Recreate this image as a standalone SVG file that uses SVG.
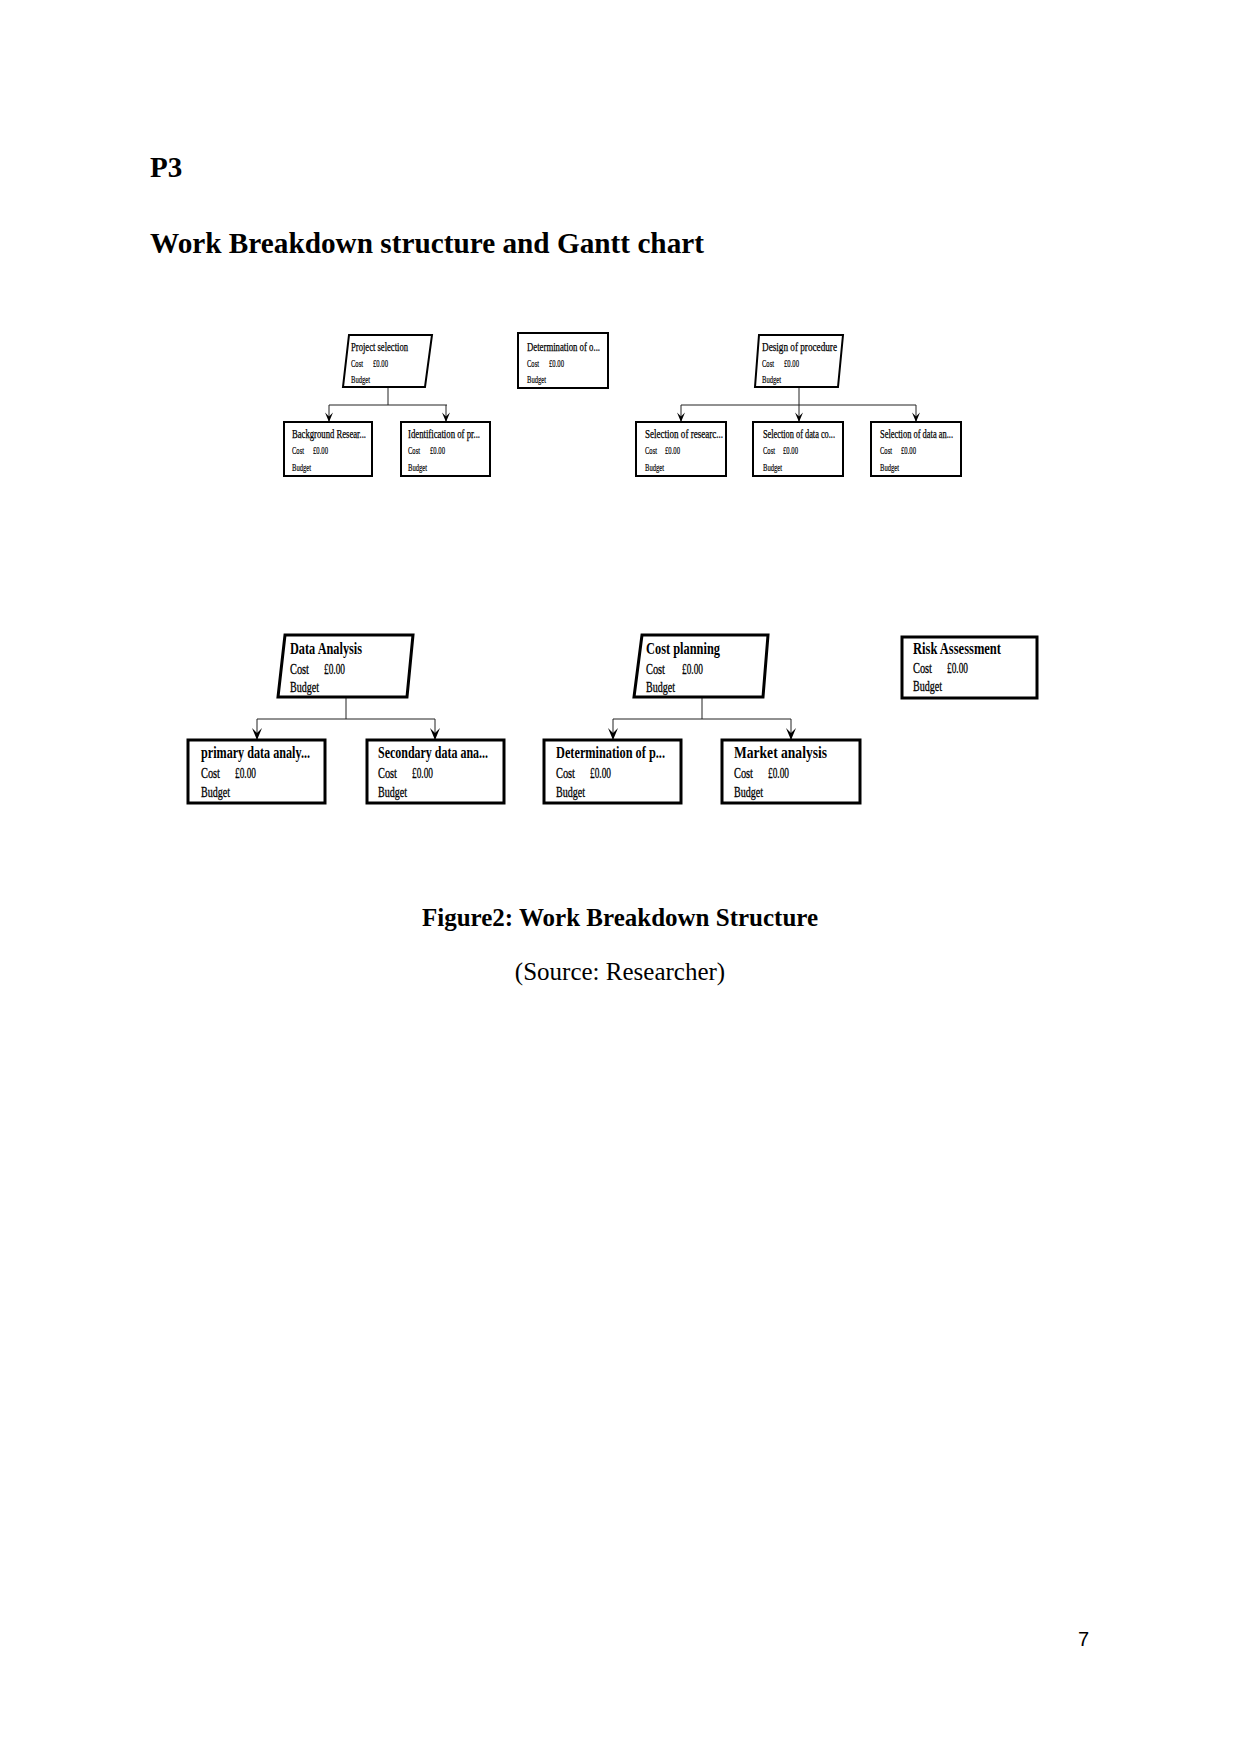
<svg xmlns="http://www.w3.org/2000/svg" width="1241" height="1754" viewBox="0 0 1241 1754">
<style>
.bg{fill:#fff}
.h{font-family:"Liberation Serif","Times New Roman",serif;font-weight:bold;fill:#000}
.r{font-family:"Liberation Serif","Times New Roman",serif;fill:#000}
.s{stroke:#000;fill:#fff;stroke-width:2}
.S{stroke:#000;fill:#fff;stroke-width:3}
.t{font-family:"Liberation Serif","Times New Roman",serif;font-size:12px;fill:#000;stroke:#000;stroke-width:0.25}
.ts{font-family:"Liberation Serif","Times New Roman",serif;font-size:11px;fill:#000;stroke:#000;stroke-width:0.2}
.T{font-family:"Liberation Serif","Times New Roman",serif;font-size:16px;font-weight:bold;fill:#000}
.Ts{font-family:"Liberation Serif","Times New Roman",serif;font-size:14px;fill:#000;stroke:#000;stroke-width:0.3}
.c{stroke:#222;stroke-width:1;fill:none}
.pn{font-family:"Liberation Sans",Arial,sans-serif;font-size:20px;fill:#000}
</style>
<defs>
<marker id="a1" viewBox="0 0 12 10" refX="12" refY="5" markerWidth="11" markerHeight="8" markerUnits="userSpaceOnUse" orient="auto">
<path d="M0,0 L12,5 L0,10 L5,5 z" fill="#000"/>
</marker>
<marker id="a2" viewBox="0 0 12 10" refX="12" refY="5" markerWidth="15" markerHeight="10" markerUnits="userSpaceOnUse" orient="auto">
<path d="M0,0 L12,5 L0,10 L5,5 z" fill="#000"/>
</marker>
</defs>
<rect class="bg" x="0" y="0" width="1241" height="1754"/>
<text class="h" x="150" y="177" font-size="29">P3</text>
<text class="h" x="150" y="253" font-size="29" textLength="554" lengthAdjust="spacingAndGlyphs">Work Breakdown structure and Gantt chart</text>

<g id="connectors">
<path class="c" d="M388,387 V405"/>
<path class="c" d="M329,405 H447"/>
<path class="c" d="M329,405 V422" marker-end="url(#a1)"/>
<path class="c" d="M446,405 V422" marker-end="url(#a1)"/>
<path class="c" d="M799,387 V422" marker-end="url(#a1)"/>
<path class="c" d="M681,405 H916"/>
<path class="c" d="M681,405 V422" marker-end="url(#a1)"/>
<path class="c" d="M916,405 V422" marker-end="url(#a1)"/>
<path class="c" d="M346,697 V719"/>
<path class="c" d="M257,719 H435"/>
<path class="c" d="M257,719 V740" marker-end="url(#a2)"/>
<path class="c" d="M435,719 V740" marker-end="url(#a2)"/>
<path class="c" d="M702,697 V719"/>
<path class="c" d="M613,719 H791"/>
<path class="c" d="M613,719 V740" marker-end="url(#a2)"/>
<path class="c" d="M791,719 V740" marker-end="url(#a2)"/>
</g>

<g id="n-project-selection">
<polygon class="s" points="349,335 432,335 425,387 343,387"/>
<text class="t" x="351" y="351" textLength="57" lengthAdjust="spacingAndGlyphs">Project selection</text>
<text class="ts" x="351" y="367" textLength="12" lengthAdjust="spacingAndGlyphs">Cost</text>
<text class="ts" x="373" y="367" textLength="15" lengthAdjust="spacingAndGlyphs">£0.00</text>
<text class="ts" x="351" y="383" textLength="19" lengthAdjust="spacingAndGlyphs">Budget</text>
</g>
<g id="n-background">
<rect class="s" x="284" y="422" width="88" height="54"/>
<text class="t" x="292" y="438" textLength="74" lengthAdjust="spacingAndGlyphs">Background Resear...</text>
<text class="ts" x="292" y="454" textLength="12" lengthAdjust="spacingAndGlyphs">Cost</text>
<text class="ts" x="313" y="454" textLength="15" lengthAdjust="spacingAndGlyphs">£0.00</text>
<text class="ts" x="292" y="471" textLength="19" lengthAdjust="spacingAndGlyphs">Budget</text>
</g>
<g id="n-identification">
<rect class="s" x="401" y="422" width="89" height="54"/>
<text class="t" x="408" y="438" textLength="72" lengthAdjust="spacingAndGlyphs">Identification of pr...</text>
<text class="ts" x="408" y="454" textLength="12" lengthAdjust="spacingAndGlyphs">Cost</text>
<text class="ts" x="430" y="454" textLength="15" lengthAdjust="spacingAndGlyphs">£0.00</text>
<text class="ts" x="408" y="471" textLength="19" lengthAdjust="spacingAndGlyphs">Budget</text>
</g>
<g id="n-determination-o">
<rect class="s" x="518" y="333" width="90" height="55"/>
<text class="t" x="527" y="351" textLength="73" lengthAdjust="spacingAndGlyphs">Determination of o...</text>
<text class="ts" x="527" y="367" textLength="12" lengthAdjust="spacingAndGlyphs">Cost</text>
<text class="ts" x="549" y="367" textLength="15" lengthAdjust="spacingAndGlyphs">£0.00</text>
<text class="ts" x="527" y="383" textLength="19" lengthAdjust="spacingAndGlyphs">Budget</text>
</g>
<g id="n-design">
<polygon class="s" points="759,335 843,335 838,387 755,387"/>
<text class="t" x="762" y="351" textLength="75" lengthAdjust="spacingAndGlyphs">Design of procedure</text>
<text class="ts" x="762" y="367" textLength="12" lengthAdjust="spacingAndGlyphs">Cost</text>
<text class="ts" x="784" y="367" textLength="15" lengthAdjust="spacingAndGlyphs">£0.00</text>
<text class="ts" x="762" y="383" textLength="19" lengthAdjust="spacingAndGlyphs">Budget</text>
</g>
<g id="n-sel-research">
<rect class="s" x="636" y="422" width="90" height="54"/>
<text class="t" x="645" y="438" textLength="78" lengthAdjust="spacingAndGlyphs">Selection of researc...</text>
<text class="ts" x="645" y="454" textLength="12" lengthAdjust="spacingAndGlyphs">Cost</text>
<text class="ts" x="665" y="454" textLength="15" lengthAdjust="spacingAndGlyphs">£0.00</text>
<text class="ts" x="645" y="471" textLength="19" lengthAdjust="spacingAndGlyphs">Budget</text>
</g>
<g id="n-sel-data-co">
<rect class="s" x="753" y="422" width="90" height="54"/>
<text class="t" x="763" y="438" textLength="72" lengthAdjust="spacingAndGlyphs">Selection of data co...</text>
<text class="ts" x="763" y="454" textLength="12" lengthAdjust="spacingAndGlyphs">Cost</text>
<text class="ts" x="783" y="454" textLength="15" lengthAdjust="spacingAndGlyphs">£0.00</text>
<text class="ts" x="763" y="471" textLength="19" lengthAdjust="spacingAndGlyphs">Budget</text>
</g>
<g id="n-sel-data-an">
<rect class="s" x="871" y="422" width="90" height="54"/>
<text class="t" x="880" y="438" textLength="73" lengthAdjust="spacingAndGlyphs">Selection of data an...</text>
<text class="ts" x="880" y="454" textLength="12" lengthAdjust="spacingAndGlyphs">Cost</text>
<text class="ts" x="901" y="454" textLength="15" lengthAdjust="spacingAndGlyphs">£0.00</text>
<text class="ts" x="880" y="471" textLength="19" lengthAdjust="spacingAndGlyphs">Budget</text>
</g>

<g id="n-data-analysis">
<polygon class="S" points="285,635 413,635 407,697 278,697"/>
<text class="T" x="290" y="654" textLength="72" lengthAdjust="spacingAndGlyphs">Data Analysis</text>
<text class="Ts" x="290" y="674" textLength="19" lengthAdjust="spacingAndGlyphs">Cost</text>
<text class="Ts" x="324" y="674" textLength="21" lengthAdjust="spacingAndGlyphs">£0.00</text>
<text class="Ts" x="290" y="692" textLength="29" lengthAdjust="spacingAndGlyphs">Budget</text>
</g>
<g id="n-primary">
<rect class="S" x="188" y="740" width="137" height="63"/>
<text class="T" x="201" y="758" textLength="109" lengthAdjust="spacingAndGlyphs">primary data analy...</text>
<text class="Ts" x="201" y="778" textLength="19" lengthAdjust="spacingAndGlyphs">Cost</text>
<text class="Ts" x="235" y="778" textLength="21" lengthAdjust="spacingAndGlyphs">£0.00</text>
<text class="Ts" x="201" y="797" textLength="29" lengthAdjust="spacingAndGlyphs">Budget</text>
</g>
<g id="n-secondary">
<rect class="S" x="367" y="740" width="137" height="63"/>
<text class="T" x="378" y="758" textLength="110" lengthAdjust="spacingAndGlyphs">Secondary data ana...</text>
<text class="Ts" x="378" y="778" textLength="19" lengthAdjust="spacingAndGlyphs">Cost</text>
<text class="Ts" x="412" y="778" textLength="21" lengthAdjust="spacingAndGlyphs">£0.00</text>
<text class="Ts" x="378" y="797" textLength="29" lengthAdjust="spacingAndGlyphs">Budget</text>
</g>
<g id="n-cost-planning">
<polygon class="S" points="642,635 768,635 763,697 634,697"/>
<text class="T" x="646" y="654" textLength="74" lengthAdjust="spacingAndGlyphs">Cost planning</text>
<text class="Ts" x="646" y="674" textLength="19" lengthAdjust="spacingAndGlyphs">Cost</text>
<text class="Ts" x="682" y="674" textLength="21" lengthAdjust="spacingAndGlyphs">£0.00</text>
<text class="Ts" x="646" y="692" textLength="29" lengthAdjust="spacingAndGlyphs">Budget</text>
</g>
<g id="n-determination-p">
<rect class="S" x="544" y="740" width="137" height="63"/>
<text class="T" x="556" y="758" textLength="109" lengthAdjust="spacingAndGlyphs">Determination of p...</text>
<text class="Ts" x="556" y="778" textLength="19" lengthAdjust="spacingAndGlyphs">Cost</text>
<text class="Ts" x="590" y="778" textLength="21" lengthAdjust="spacingAndGlyphs">£0.00</text>
<text class="Ts" x="556" y="797" textLength="29" lengthAdjust="spacingAndGlyphs">Budget</text>
</g>
<g id="n-market">
<rect class="S" x="722" y="740" width="138" height="63"/>
<text class="T" x="734" y="758" textLength="93" lengthAdjust="spacingAndGlyphs">Market analysis</text>
<text class="Ts" x="734" y="778" textLength="19" lengthAdjust="spacingAndGlyphs">Cost</text>
<text class="Ts" x="768" y="778" textLength="21" lengthAdjust="spacingAndGlyphs">£0.00</text>
<text class="Ts" x="734" y="797" textLength="29" lengthAdjust="spacingAndGlyphs">Budget</text>
</g>
<g id="n-risk">
<rect class="S" x="902" y="637" width="135" height="61"/>
<text class="T" x="913" y="654" textLength="88" lengthAdjust="spacingAndGlyphs">Risk Assessment</text>
<text class="Ts" x="913" y="673" textLength="19" lengthAdjust="spacingAndGlyphs">Cost</text>
<text class="Ts" x="947" y="673" textLength="21" lengthAdjust="spacingAndGlyphs">£0.00</text>
<text class="Ts" x="913" y="691" textLength="29" lengthAdjust="spacingAndGlyphs">Budget</text>
</g>

<text class="h" x="620" y="926" font-size="25" text-anchor="middle">Figure2: Work Breakdown Structure</text>
<text class="r" x="620" y="980" font-size="25" text-anchor="middle">(Source: Researcher)</text>
<text class="pn" x="1078" y="1646">7</text>
</svg>
